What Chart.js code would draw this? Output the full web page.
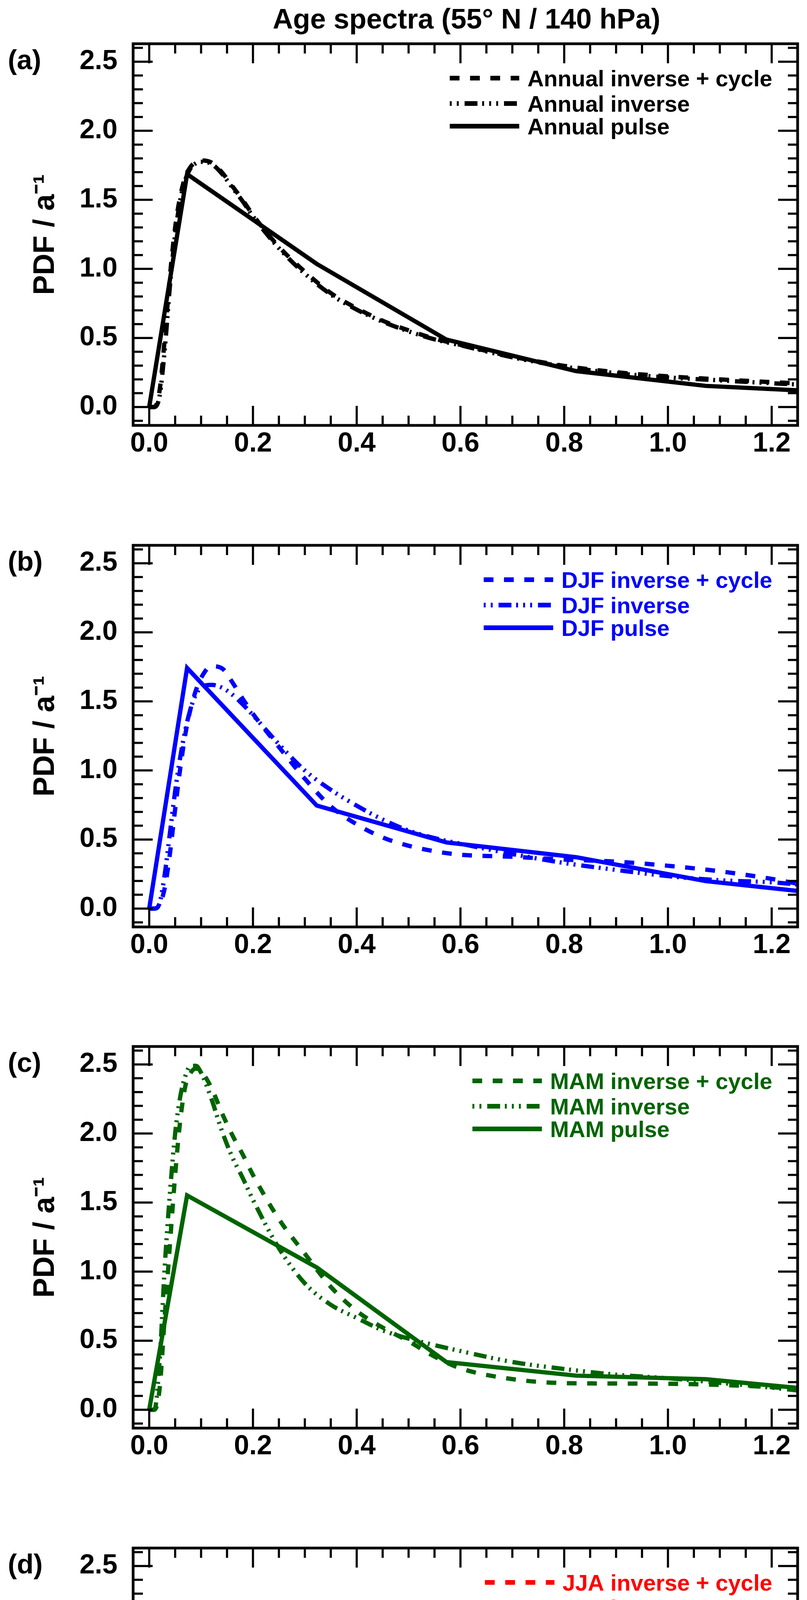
<!DOCTYPE html>
<html>
<head>
<meta charset="utf-8">
<title>Age spectra (55° N / 140 hPa)</title>
<script src="https://cdn.jsdelivr.net/npm/chart.js@4.4.1/dist/chart.umd.min.js"></script>
<style>
  html, body { margin: 0; padding: 0; background: #fff; }
  #page { position: relative; width: 2067px; height: 6399px; background: #fff; }
  #page canvas { position: absolute; left: 0; }
</style>
</head>
<body>
<div id="page"></div>
<script>
// transit time grid (a) for the pulse runs and the inverse runs
const pulseX = [0, 0.073, 0.323, 0.573, 0.823, 1.073, 1.25];
const invX = [0, 0.01, 0.02, 0.03, 0.04, 0.05, 0.06, 0.07, 0.08, 0.09, 0.10,
              0.12, 0.14, 0.16, 0.18, 0.20, 0.25, 0.30, 0.35, 0.40, 0.45, 0.50,
              0.55, 0.60, 0.70, 0.80, 0.90, 1.00, 1.10, 1.20, 1.25];

// PDF values (1/a)
const annualCycle   = [0, 0, 0.12, 0.5, 0.95, 1.3, 1.53, 1.67, 1.74, 1.775, 1.785, 1.77, 1.70, 1.60, 1.50, 1.39, 1.16, 0.98, 0.825, 0.715, 0.625, 0.555, 0.495, 0.45, 0.365, 0.298, 0.252, 0.222, 0.200, 0.180, 0.171];
const annualInverse = [0, 0, 0.08, 0.42, 0.88, 1.25, 1.5, 1.65, 1.73, 1.765, 1.775, 1.76, 1.69, 1.59, 1.49, 1.38, 1.15, 0.965, 0.815, 0.705, 0.618, 0.548, 0.49, 0.447, 0.36, 0.292, 0.245, 0.214, 0.193, 0.172, 0.163];
const annualPulse   = [0, 1.686, 1.036, 0.488, 0.26, 0.153, 0.121];

const djfCycle   = [0, 0, 0.03, 0.15, 0.4, 0.72, 1.02, 1.27, 1.45, 1.58, 1.67, 1.755, 1.74, 1.64, 1.52, 1.41, 1.17, 0.94, 0.74, 0.61, 0.515, 0.455, 0.415, 0.39, 0.375, 0.355, 0.34, 0.31, 0.27, 0.215, 0.18];
const djfInverse = [0, 0, 0.04, 0.25, 0.55, 0.85, 1.1, 1.3, 1.45, 1.55, 1.6, 1.62, 1.6, 1.55, 1.48, 1.40, 1.19, 1.00, 0.86, 0.745, 0.645, 0.565, 0.51, 0.47, 0.395, 0.33, 0.28, 0.235, 0.205, 0.19, 0.175];
const djfPulse   = [0, 1.742, 0.746, 0.479, 0.372, 0.199, 0.128];

const mamCycle   = [0, 0, 0.15, 0.68, 1.2, 1.7, 2.1, 2.35, 2.44, 2.47, 2.45, 2.33, 2.15, 1.99, 1.85, 1.70, 1.38, 1.13, 0.89, 0.715, 0.595, 0.496, 0.385, 0.30, 0.222, 0.193, 0.19, 0.188, 0.18, 0.163, 0.15];
const mamInverse = [0, 0, 0.35, 1.04, 1.57, 2.0, 2.27, 2.42, 2.49, 2.49, 2.44, 2.25, 2.02, 1.83, 1.68, 1.52, 1.17, 0.915, 0.76, 0.665, 0.575, 0.515, 0.468, 0.425, 0.346, 0.295, 0.254, 0.228, 0.195, 0.16, 0.14];
const mamPulse   = [0, 1.552, 1.03, 0.345, 0.247, 0.221, 0.158];

const jjaCycle   = [0, 0, 0.42, 1.08, 1.5, 1.76, 1.89, 1.94, 1.95, 1.93, 1.90, 1.82, 1.71, 1.60, 1.49, 1.39, 1.15, 0.995, 0.88, 0.78, 0.71, 0.63, 0.55, 0.475, 0.348, 0.272, 0.18, 0.148, 0.138, 0.13, 0.125];
const jjaInverse = [0, 0, 0.38, 1.03, 1.53, 1.82, 2.02, 2.14, 2.19, 2.195, 2.15, 2.01, 1.87, 1.70, 1.56, 1.42, 1.15, 0.955, 0.795, 0.686, 0.597, 0.526, 0.464, 0.41, 0.325, 0.27, 0.23, 0.203, 0.186, 0.17, 0.16];
const jjaPulse   = [0, 1.84, 1.15, 0.455, 0.157, 0.116, 0.107];

const sonCycle   = [0, 0, 0, 0.05, 0.18, 0.38, 0.6, 0.78, 0.9, 0.99, 1.05, 1.10, 1.11, 1.08, 1.035, 0.98, 0.86, 0.775, 0.715, 0.675, 0.643, 0.622, 0.607, 0.58, 0.526, 0.452, 0.36, 0.28, 0.215, 0.165, 0.142];
const sonInverse = [0, 0, 0, 0.04, 0.14, 0.30, 0.52, 0.73, 0.89, 1.01, 1.08, 1.16, 1.21, 1.22, 1.20, 1.15, 1.02, 0.91, 0.81, 0.73, 0.665, 0.603, 0.55, 0.505, 0.41, 0.345, 0.292, 0.255, 0.237, 0.215, 0.21];
const sonPulse   = [0, 1.597, 1.13, 0.63, 0.278, 0.112, 0.082];

const seasons = ['Annual', 'DJF', 'MAM', 'JJA', 'SON'];
const panelLetters = ['(a)', '(b)', '(c)', '(d)', '(e)'];
const seasonColors = ['#000000', '#0000ff', '#006400', '#ff0000', '#ffa500'];
const cycleSeries = [annualCycle, djfCycle, mamCycle, jjaCycle, sonCycle];
const inverseSeries = [annualInverse, djfInverse, mamInverse, jjaInverse, sonInverse];
const pulseSeries = [annualPulse, djfPulse, mamPulse, jjaPulse, sonPulse];

const xTickValues = [0, 0.2, 0.4, 0.6, 0.8, 1.0, 1.2];
const yTickValues = [0, 0.5, 1.0, 1.5, 2.0, 2.5];

// layout
const FONT = "'Liberation Sans', Arial, Helvetica, sans-serif";
const W = 2067;
const panelTops = [112, 1396, 2679, 3963, 5247];
const BOX_TOP = 112, BOX_BOTTOM = 1089;
const X_MIN = -0.031, X_MAX = 1.25;
const Y_MIN = -0.133, Y_MAX = 2.63;
const DASHED = [25, 27];
const DASH_DOTS = [33, 12, 5, 13, 5, 13, 5, 15];

Chart.defaults.font.family = FONT;
Chart.defaults.color = '#000';

function pts(xs, ys) {
  return xs.map((x, i) => ({ x: x, y: ys[i] }));
}

// box, inward ticks on all sides, legend and panel label
const framePlugin = {
  id: 'frame',
  afterDraw(chart, args, opts) {
    const { ctx, chartArea: a } = chart;
    const xs = chart.scales.x, ys = chart.scales.y;
    ctx.save();

    ctx.strokeStyle = '#000';
    ctx.lineWidth = 5.5;
    ctx.lineCap = 'butt';
    ctx.beginPath();
    for (let i = 0; i <= 25; i++) {
      const px = xs.getPixelForValue(i * 0.05);
      const len = i % 4 === 0 ? 50 : 25;
      ctx.moveTo(px, a.bottom); ctx.lineTo(px, a.bottom - len);
      ctx.moveTo(px, a.top); ctx.lineTo(px, a.top + len);
    }
    for (let i = -1; i <= 26; i++) {
      const py = ys.getPixelForValue(i * 0.1);
      const len = i % 5 === 0 ? 50 : 25;
      ctx.moveTo(a.left, py); ctx.lineTo(a.left + len, py);
      ctx.moveTo(a.right, py); ctx.lineTo(a.right - len, py);
    }
    ctx.stroke();
    ctx.lineWidth = 7;
    ctx.strokeRect(a.left, a.top, a.right - a.left, a.bottom - a.top);

    // legend
    ctx.font = 'bold 58px ' + FONT;
    const labels = chart.data.datasets.map(d => d.label);
    const maxW = Math.max(...labels.map(t => ctx.measureText(t).width));
    const textX = 1978 - maxW;
    const rows = [88, 153, 211];
    chart.data.datasets.forEach((d, i) => {
      const ry = a.top + rows[i];
      ctx.strokeStyle = d.borderColor;
      ctx.lineWidth = 12;
      ctx.setLineDash(d.borderDash || []);
      ctx.lineDashOffset = d.borderDash === DASH_DOTS ? 63 : 0;
      ctx.beginPath();
      ctx.moveTo(textX - 199, ry);
      ctx.lineTo(textX - 21, ry);
      ctx.stroke();
      ctx.setLineDash([]);
      ctx.fillStyle = d.borderColor;
      ctx.textAlign = 'left';
      ctx.textBaseline = 'alphabetic';
      ctx.fillText(d.label, textX, ry + 21);
    });

    // panel letter
    ctx.fillStyle = '#000';
    ctx.font = 'bold 70px ' + FONT;
    ctx.textAlign = 'left';
    ctx.textBaseline = 'alphabetic';
    ctx.fillText(opts.letter, 20, a.top + 65);

    if (opts.title) {
      ctx.font = 'bold 72px ' + FONT;
      ctx.textAlign = 'center';
      ctx.fillText(opts.title, (a.left + a.right) / 2 + 3, 73);
    }
    ctx.restore();
  }
};

const page = document.getElementById('page');

seasons.forEach((season, k) => {
  const last = k === seasons.length - 1;
  const canvasTop = panelTops[k] - BOX_TOP;
  const H = last ? 6399 - canvasTop : 1284;
  const canvas = document.createElement('canvas');
  canvas.width = W;
  canvas.height = H;
  canvas.style.top = canvasTop + 'px';
  canvas.style.width = W + 'px';
  canvas.style.height = H + 'px';
  page.appendChild(canvas);

  const color = seasonColors[k];
  new Chart(canvas.getContext('2d'), {
    type: 'line',
    data: {
      datasets: [
        {
          label: season + ' inverse + cycle',
          data: pts(invX, cycleSeries[k]),
          borderColor: color,
          borderDash: DASHED,
          cubicInterpolationMode: 'monotone'
        },
        {
          label: season + ' inverse',
          data: pts(invX, inverseSeries[k]),
          borderColor: color,
          borderDash: DASH_DOTS,
          cubicInterpolationMode: 'monotone'
        },
        {
          label: season + ' pulse',
          data: pts(pulseX, pulseSeries[k]),
          borderColor: color,
          tension: 0
        }
      ]
    },
    options: {
      responsive: false,
      animation: false,
      devicePixelRatio: 1,
      layout: { padding: { top: BOX_TOP, left: 0, right: 24, bottom: 0 } },
      elements: {
        point: { radius: 0, hoverRadius: 0 },
        line: { borderWidth: 11, fill: false, borderJoinStyle: 'miter' }
      },
      plugins: {
        legend: { display: false },
        tooltip: { enabled: false },
        frame: { letter: panelLetters[k], title: k === 0 ? 'Age spectra (55° N / 140 hPa)' : '' }
      },
      scales: {
        x: {
          type: 'linear',
          min: X_MIN,
          max: X_MAX,
          grid: { display: false, drawTicks: false },
          border: { display: false },
          afterBuildTicks: s => { s.ticks = xTickValues.map(v => ({ value: v })); },
          afterFit: s => { s.height = H - BOX_BOTTOM; },
          ticks: {
            autoSkip: false,
            maxRotation: 0,
            padding: 13,
            color: '#000',
            font: { size: 70, weight: 'bold', lineHeight: 1 },
            callback: v => Number(v).toFixed(1)
          },
          title: {
            display: last,
            text: 'Transit time / a',
            color: '#000',
            font: { size: 75, weight: 'bold', lineHeight: 1 },
            padding: { top: 0, bottom: 17 }
          }
        },
        y: {
          type: 'linear',
          min: Y_MIN,
          max: Y_MAX,
          grid: { display: false, drawTicks: false },
          border: { display: false },
          afterBuildTicks: s => { s.ticks = yTickValues.map(v => ({ value: v })); },
          afterFit: s => { s.width = 341; },
          ticks: {
            autoSkip: false,
            padding: 40,
            color: '#000',
            font: { size: 70, weight: 'bold', lineHeight: 1 },
            callback: v => Number(v).toFixed(1)
          },
          title: {
            display: true,
            text: 'PDF / a\u207B\u00B9',
            color: '#000',
            font: { size: 76, weight: 'bold', lineHeight: 1 },
            padding: { top: 79, bottom: 0 }
          }
        }
      }
    },
    plugins: [framePlugin]
  });
});
</script>
</body>
</html>
